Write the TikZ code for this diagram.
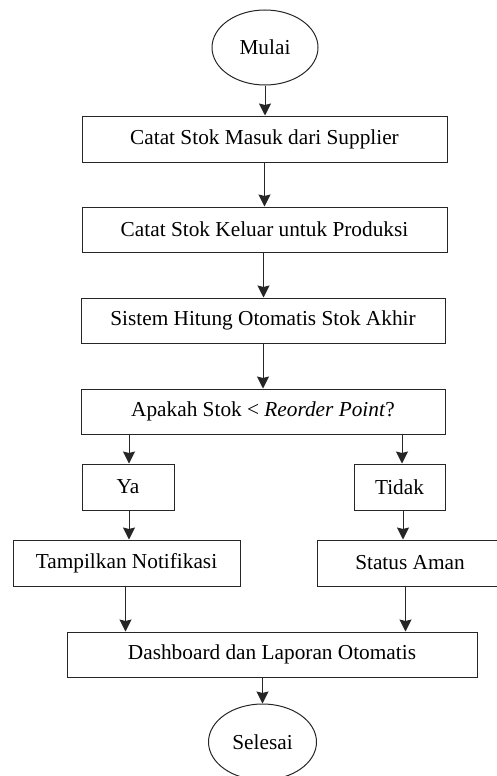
\documentclass[tikz,border=0pt]{standalone}
\usepackage{fontspec}
\setmainfont{Liberation Serif}
\usetikzlibrary{shapes.geometric,arrows.meta}
\begin{document}
\begin{tikzpicture}[x=1pt,y=-1pt,
  every node/.style={font=\fontsize{21.3}{24}\selectfont, inner sep=0pt},
  procbox/.style={draw=black!85, line width=1pt, rectangle},
  termin/.style={draw=black!85, line width=1pt, ellipse},
  arr/.style={draw=black!85, line width=1pt, -{Stealth[length=12pt,width=12pt,inset=1.5pt]}}]
\useasboundingbox (0,0) rectangle (497,776);
\node[termin, minimum width=106, minimum height=75] (mulai) at (265,47.5) {Mulai};
\node[procbox, minimum width=365, minimum height=46] (b1) at (264.5,139) {Catat Stok Masuk dari Supplier};
\node[procbox, minimum width=365, minimum height=45] (b2) at (264.5,229.5) {Catat Stok Keluar untuk Produksi};
\node[procbox, minimum width=364, minimum height=45] (b3) at (263,320.5) {Sistem Hitung Otomatis Stok Akhir};
\node[procbox, minimum width=364, minimum height=45] (b4) at (263,411.5) {Apakah Stok < \textit{Reorder Point}?};
\node[procbox, minimum width=92, minimum height=46] (ya) at (128,487) {Ya};
\node[procbox, minimum width=91, minimum height=46] (tidak) at (399.5,487) {Tidak};
\node[procbox, minimum width=227, minimum height=46] (notif) at (126.5,563) {Tampilkan Notifikasi};
\node[procbox, minimum width=186, minimum height=46] (aman) at (410,563) {Status Aman};
\node[procbox, minimum width=410, minimum height=45] (dash) at (272,654.5) {Dashboard dan Laporan Otomatis};
\node[termin, minimum width=108, minimum height=76] (selesai) at (262.5,742) {Selesai};
\coordinate (xa) at (129,0);
\coordinate (xb) at (402,0);
\coordinate (xc) at (403,0);
\coordinate (xd) at (125.5,0);
\coordinate (xe) at (405.5,0);
\coordinate (xm) at (263.5,0);
\draw[arr] (mulai.south) -- (b1.north -| mulai.south);
\draw[arr] (b1.south) -- (b2.north);
\draw[arr] (b2.south -| xm) -- (b3.north -| xm);
\draw[arr] (b3.south) -- (b4.north);
\draw[arr] (b4.south -| xa) -- (ya.north -| xa);
\draw[arr] (b4.south -| xb) -- (tidak.north -| xb);
\draw[arr] (ya.south -| xa) -- (notif.north -| xa);
\draw[arr] (tidak.south -| xc) -- (aman.north -| xc);
\draw[arr] (notif.south -| xd) -- (dash.north -| xd);
\draw[arr] (aman.south -| xe) -- (dash.north -| xe);
\draw[arr] (dash.south -| selesai.north) -- (selesai.north);
\end{tikzpicture}
\end{document}
